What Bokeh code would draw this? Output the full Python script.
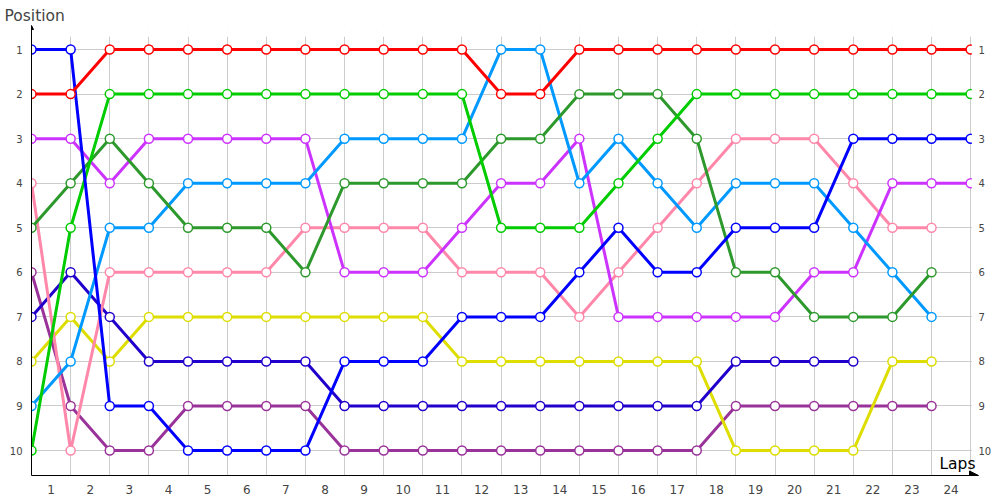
from bokeh.plotting import figure
from bokeh.embed import file_html
from bokeh.resources import INLINE
from bokeh.models import (Range1d, FixedTicker, LinearAxis, Label, Arrow,
                          NormalHead, BoxAnnotation)

# lap labels sit between the boundaries where the positions are recorded
laps = [str(i) for i in range(1, 25)]
positions = list(range(1, 11))

red = [2, 2, 1, 1, 1, 1, 1, 1, 1, 1, 1, 1, 2, 2, 1, 1, 1, 1, 1, 1, 1, 1, 1, 1, 1]
blue = [1, 1, 9, 9, 10, 10, 10, 10, 8, 8, 8, 7, 7, 7, 6, 5, 6, 6, 5, 5, 5, 3, 3, 3, 3]
green = [10, 5, 2, 2, 2, 2, 2, 2, 2, 2, 2, 2, 5, 5, 5, 4, 3, 2, 2, 2, 2, 2, 2, 2, 2]
dark_green = [5, 4, 3, 4, 5, 5, 5, 6, 4, 4, 4, 4, 3, 3, 2, 2, 2, 3, 6, 6, 7, 7, 7, 6]
light_blue = [9, 8, 5, 5, 4, 4, 4, 4, 3, 3, 3, 3, 1, 1, 4, 3, 4, 5, 4, 4, 4, 5, 6, 7]
magenta = [3, 3, 4, 3, 3, 3, 3, 3, 6, 6, 6, 5, 4, 4, 3, 7, 7, 7, 7, 7, 6, 6, 4, 4, 4]
pink = [4, 10, 6, 6, 6, 6, 6, 5, 5, 5, 5, 6, 6, 6, 7, 6, 5, 4, 3, 3, 3, 4, 5, 5]
navy = [7, 6, 7, 8, 8, 8, 8, 8, 9, 9, 9, 9, 9, 9, 9, 9, 9, 9, 8, 8, 8, 8]
yellow = [8, 7, 8, 7, 7, 7, 7, 7, 7, 7, 7, 8, 8, 8, 8, 8, 8, 8, 10, 10, 10, 10, 8, 8]
purple = [6, 9, 10, 10, 9, 9, 9, 9, 10, 10, 10, 10, 10, 10, 10, 10, 10, 10, 9, 9, 9, 9, 9, 9]

series = [
    (purple, "#993399"),
    (yellow, "#dddd00"),
    (navy, "#2200cc"),
    (pink, "#ff88aa"),
    (magenta, "#cc33ff"),
    (light_blue, "#0099ff"),
    (dark_green, "#2d992d"),
    (green, "#00cc00"),
    (blue, "#0000ff"),
    (red, "#ff0000"),
]

FONT = "DejaVu Sans"
x_end = 24.2
y_top, y_bottom = 0.46, 10.56

p = figure(width=1000, height=500, output_backend="svg", toolbar_location=None,
           x_range=Range1d(0, x_end), y_range=Range1d(y_bottom, y_top),
           min_border_left=31, min_border_right=22, min_border_top=25,
           min_border_bottom=25)
p.outline_line_color = None
p.background_fill_color = "white"

p.title.text = "Position"
p.title.text_font = FONT
p.title.text_font_size = "15.5px"
p.title.text_font_style = "normal"
p.title.align = "left"
p.title.offset = -27
p.title.standoff = 2

# grid on lap boundaries and on every position
p.xgrid.ticker = FixedTicker(ticks=list(range(len(laps) + 1)))
p.ygrid.ticker = FixedTicker(ticks=positions)
p.xgrid.grid_line_color = "#cccccc"
p.ygrid.grid_line_color = "#cccccc"

lap_ticks = [i + 0.5 for i in range(len(laps))]
p.xaxis.ticker = FixedTicker(ticks=lap_ticks)
p.xaxis.major_label_overrides = {t: lab for t, lab in zip(lap_ticks, laps)}
p.xaxis.major_label_text_font = FONT
p.xaxis.major_label_text_font_size = "12px"
p.xaxis.major_label_standoff = 9
p.xaxis.major_tick_out = 0
p.xaxis.major_tick_in = 0
p.xaxis.minor_tick_out = 0
p.xaxis.minor_tick_in = 0
p.xaxis.axis_line_color = "black"

p.yaxis.ticker = FixedTicker(ticks=positions)
p.yaxis.major_label_text_font = FONT
p.yaxis.major_label_text_font_size = "10px"
p.yaxis.major_label_standoff = 9
p.yaxis.major_tick_out = 0
p.yaxis.major_tick_in = 0
p.yaxis.minor_tick_out = 0
p.yaxis.minor_tick_in = 0
p.yaxis.axis_line_color = "black"

right = LinearAxis(ticker=FixedTicker(ticks=positions))
right.axis_line_color = None
right.major_tick_out = 0
right.major_tick_in = 0
right.minor_tick_out = 0
right.minor_tick_in = 0
right.major_label_standoff = 0
right.major_label_text_font = FONT
right.major_label_text_font_size = "10px"
p.add_layout(right, "right")

# keep the grid out of the strip above the first row and right of the last lap
p.add_layout(BoxAnnotation(left=0.04, right=x_end, top=y_top, bottom=0.71,
                           fill_color="white", fill_alpha=1, line_color=None))
p.add_layout(BoxAnnotation(left=24.03, right=x_end, top=y_top, bottom=10.48,
                           fill_color="white", fill_alpha=1, line_color=None))

for values, color in series:
    xs = list(range(len(values)))
    p.line(xs, values, line_color=color, line_width=3)
    p.scatter(xs, values, marker="circle", size=9, fill_color="white",
              line_color=color, line_width=1.5)

p.add_layout(Arrow(end=NormalHead(size=9, fill_color="black", line_color="black"),
                   x_start=23.8, y_start=y_bottom, x_end=x_end, y_end=y_bottom,
                   line_color="black", line_width=1))
p.add_layout(Arrow(end=NormalHead(size=4, fill_color="black", line_color="black"),
                   x_start=0, y_start=0.6, x_end=0, y_end=y_top,
                   line_color="black", line_width=1))

p.add_layout(Label(x=x_end, y=y_bottom, x_offset=-3, y_offset=3, text="Laps",
                   text_font=FONT, text_font_size="15.5px", text_align="right",
                   text_baseline="bottom", text_color="black"))

open("out.html", "w").write(file_html(p, INLINE))
